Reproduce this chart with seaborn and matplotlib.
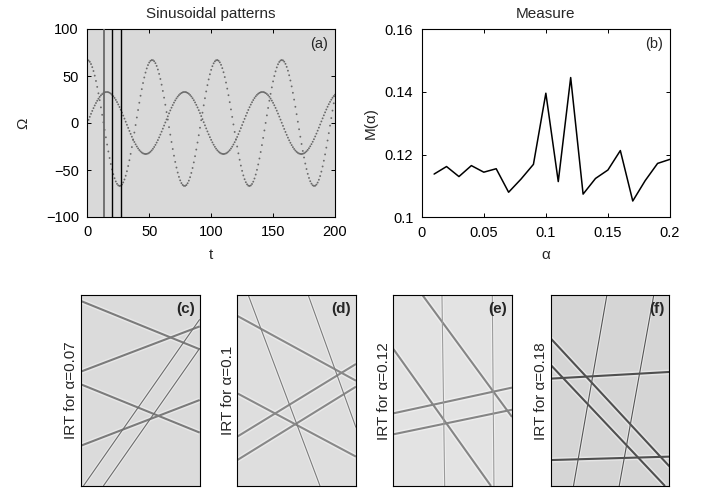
import numpy as np
import pandas as pd
import matplotlib
matplotlib.use("Agg")
import matplotlib.pyplot as plt
import seaborn as sns

# ---- panel (a): two sinusoidal patterns sampled once per time step ----
t_samples = np.arange(0, 201)
wave_amplitudes = [33.0, 67.0]
wave_frequencies = [0.10, 0.12]
wave_phases = [0.0, np.pi / 2]
window_marks = [13.3, 20.3, 27.3]
window_colors = ["#6a6a6a", "black", "black"]

# ---- panel (b): measure M(alpha) ----
alpha_values = [0.01, 0.02, 0.03, 0.04, 0.05, 0.06, 0.07, 0.08, 0.09, 0.10,
                0.11, 0.12, 0.13, 0.14, 0.15, 0.16, 0.17, 0.18, 0.19, 0.20]
measure_values = [0.1138, 0.1162, 0.1130, 0.1165, 0.1144, 0.1155, 0.1080,
                  0.1122, 0.1169, 0.1396, 0.1114, 0.1446, 0.1074, 0.1124,
                  0.1151, 0.1213, 0.1052, 0.1117, 0.1172, 0.1185]

# ---- panels (c)-(f): line features of the IRT images (x0, y0, x1, y1) ----
irt_alphas = ["0.07", "0.1", "0.12", "0.18"]
irt_tags = ["(c)", "(d)", "(e)", "(f)"]
irt_thick = [
    [(0, 0.970, 1, 0.717), (0, 0.600, 1, 0.837), (0, 0.533, 1, 0.280), (0, 0.2115, 1, 0.451)],
    [(0, 0.892, 1, 0.552), (0, 0.486, 1, 0.154), (0, 0.259, 1, 0.640), (0, 0.136, 1, 0.521)],
    [(0.247, 1, 1, 0.362), (0, 0.719, 0.823, 0), (0, 0.381, 1, 0.516), (0, 0.271, 1, 0.400)],
    [(0, 0.563, 1, 0.598), (0, 0.136, 1, 0.154), (0, 0.774, 1, 0.103), (0, 0.635, 0.963, 0)],
]
irt_thin = [
    [(0.02, 0, 1, 0.874), (0.188, 0, 1, 0.722)],
    [(0.093, 1, 0.697, 0), (0.598, 1, 1, 0.306)],
    [(0.410, 1, 0.433, 0), (0.834, 1, 0.848, 0)],
    [(0.473, 1, 0.192, 0), (0.868, 1, 0.577, 0)],
]
irt_background = ["#dbdbdb", "#dedede", "#e3e3e3", "#d5d5d5"]
irt_halo = ["#e8e8e8", "#ebebeb", "#eeeeee", "#e6e6e6"]
irt_thick_color = ["#7b7b7b", "#888888", "#858585", "#4f4f4f"]
irt_thin_color = ["#6c6c6c", "#7c7c7c", "#9a9a9a", "#555555"]

sns.set_theme(style="white")
plt.rcParams["font.family"] = ["Liberation Sans", "DejaVu Sans"]
plt.rcParams["axes.unicode_minus"] = True

fig = plt.figure(figsize=(7.01, 4.91), dpi=100)
W, H = 701.0, 491.0


def axes_px(left, top, right, bottom):
    return fig.add_axes([left / W, 1 - bottom / H, (right - left) / W, (bottom - top) / H])


def frame(ax):
    for sp in ax.spines.values():
        sp.set_visible(True)
        sp.set_color("black")
        sp.set_linewidth(0.8)


# ---------------- panel (a) ----------------
ax_a = axes_px(87.3, 29.0, 335.0, 217.0)
ax_a.set_facecolor("#d9d9d9")
frame(ax_a)
waves = []
for k, (amp, freq, ph) in enumerate(zip(wave_amplitudes, wave_frequencies, wave_phases)):
    waves.append(pd.DataFrame({"t": t_samples,
                               "omega": amp * np.sin(freq * t_samples + ph),
                               "wave": f"w{k}"}))
waves = pd.concat(waves, ignore_index=True)
sns.scatterplot(data=waves, x="t", y="omega", hue="wave",
                palette=["#6a6a6a", "#6a6a6a"], s=1.8, linewidth=0,
                legend=False, ax=ax_a, zorder=2)
for xm, col in zip(window_marks, window_colors):
    ax_a.axvline(xm, color=col, lw=1.3 if col != "black" else 1.0, zorder=3)
ax_a.set_xlim(0, 200)
ax_a.set_ylim(-100, 100)
ax_a.set_xticks([0, 50, 100, 150, 200])
ax_a.set_yticks([-100, -50, 0, 50, 100])
ax_a.set_xlabel("t", fontsize=11, labelpad=6)
ax_a.set_ylabel("Ω", fontsize=11, labelpad=11)
ax_a.set_title("Sinusoidal patterns", fontsize=11, pad=8)
ax_a.text(0.97, 0.96, "(a)", transform=ax_a.transAxes, ha="right", va="top", fontsize=10.5)

# ---------------- panel (b) ----------------
ax_b = axes_px(421.7, 29.3, 670.0, 217.3)
ax_b.set_facecolor("white")
frame(ax_b)
measure = pd.DataFrame({"alpha": alpha_values, "M": measure_values})
sns.lineplot(data=measure, x="alpha", y="M", color="black", lw=1.1, ax=ax_b)
ax_b.set_xlim(0, 0.2)
ax_b.set_ylim(0.1, 0.16)
ax_b.set_xticks([0, 0.05, 0.1, 0.15, 0.2])
ax_b.set_xticklabels(["0", "0.05", "0.1", "0.15", "0.2"])
ax_b.set_yticks([0.1, 0.12, 0.14, 0.16])
ax_b.set_yticklabels(["0.1", "0.12", "0.14", "0.16"])
ax_b.set_xlabel("α", fontsize=11, labelpad=6)
ax_b.set_ylabel("M(α)", fontsize=11, labelpad=5)
ax_b.set_title("Measure", fontsize=11, pad=8)
ax_b.text(0.97, 0.96, "(b)", transform=ax_b.transAxes, ha="right", va="top", fontsize=10.5)

for ax in (ax_a, ax_b):
    ax.tick_params(direction="in", top=True, right=True, length=3, width=0.7,
                   labelsize=10.5, pad=6, colors="black")
    ax.tick_params(axis="both", which="both", bottom=True, left=True)

# ---------------- panels (c)-(f) ----------------
lefts = [81.0, 237.3, 393.3, 550.7]
for i, left in enumerate(lefts):
    ax = axes_px(left, 295.3, left + 118.7, 486.0)
    ax.set_facecolor(irt_background[i])
    frame(ax)
    for seg in irt_thick[i]:
        xs, ys = [seg[0], seg[2]], [seg[1], seg[3]]
        ax.plot(xs, ys, color=irt_halo[i], lw=3.6, solid_capstyle="butt", zorder=1)
    for seg in irt_thin[i]:
        xs, ys = [seg[0], seg[2]], [seg[1], seg[3]]
        ax.plot(xs, ys, color=irt_halo[i], lw=2.4, solid_capstyle="butt", zorder=1)
    for seg in irt_thick[i]:
        xs, ys = [seg[0], seg[2]], [seg[1], seg[3]]
        ax.plot(xs, ys, color=irt_thick_color[i], lw=1.5, solid_capstyle="butt", zorder=2)
    for seg in irt_thin[i]:
        xs, ys = [seg[0], seg[2]], [seg[1], seg[3]]
        ax.plot(xs, ys, color=irt_thin_color[i], lw=0.8, solid_capstyle="butt", zorder=2)
    ax.set_xlim(0, 1)
    ax.set_ylim(0, 1)
    ax.set_xticks([])
    ax.set_yticks([])
    ax.set_ylabel(f"IRT for α={irt_alphas[i]}", fontsize=11, labelpad=2)
    ax.text(0.96, 0.965, irt_tags[i], transform=ax.transAxes, ha="right", va="top",
            fontsize=11, fontweight="bold")

fig.savefig("out.png", dpi=100)
